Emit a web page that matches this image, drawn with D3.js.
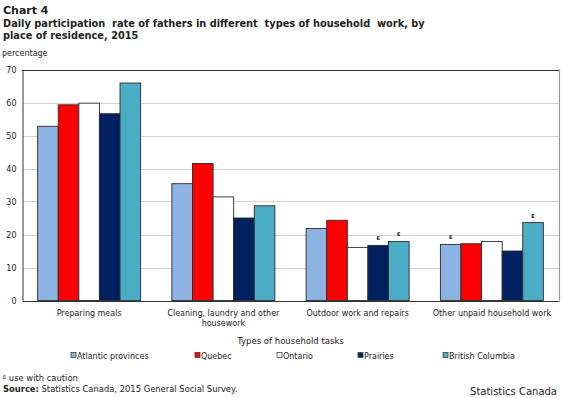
<!DOCTYPE html>
<html>
<head>
<meta charset="utf-8">
<script src="https://cdn.jsdelivr.net/npm/d3@7"></script>
<style>
  html, body { margin: 0; padding: 0; background: #fff; }
  svg { display: block; }
  text { font-family: "DejaVu Sans", Verdana, sans-serif; fill: #222; }
  .pre { white-space: pre; }
</style>
</head>
<body>
<svg id="chart" width="570" height="398"></svg>
<script>
// ---- data ----
const categories = [
  "Preparing meals",
  "Cleaning, laundry and other housework",
  "Outdoor work and repairs",
  "Other unpaid household work"
];
const seriesNames = ["Atlantic provinces", "Quebec", "Ontario", "Prairies", "British Columbia"];
const atlanticProvinces = [52.8, 35.4, 21.8, 17.0];
const quebec            = [59.3, 41.5, 24.3, 17.2];
const ontario           = [59.8, 31.4, 16.1, 17.9];
const prairies          = [56.6, 25.0, 16.7, 15.0];
const britishColumbia   = [65.9, 28.7, 17.9, 23.6];
// "E" = use with caution flags, per series, per category
const cautionAtlantic = [false, false, false, true];
const cautionQuebec   = [false, false, false, false];
const cautionOntario  = [false, false, false, false];
const cautionPrairies = [false, false, true, false];
const cautionBC       = [false, false, true, true];
const yTicks = [0, 10, 20, 30, 40, 50, 60, 70];

const seriesValues = [atlanticProvinces, quebec, ontario, prairies, britishColumbia];
const seriesCaution = [cautionAtlantic, cautionQuebec, cautionOntario, cautionPrairies, cautionBC];
const colors = ["#8DB3E2", "#FF0000", "#FFFFFF", "#002060", "#4BACC6"];

const svg = d3.select("#chart");
const plot = { left: 22, right: 559, top: 69.5, bottom: 300.5 };

const x0 = d3.scaleBand().domain(categories).range([plot.left, plot.right])
  .paddingInner(0.233).paddingOuter(0.1165);
const x1 = d3.scaleBand().domain(seriesNames).range([0, x0.bandwidth()]).padding(0);
const y = d3.scaleLinear().domain([0, 70]).range([plot.bottom, plot.top]);

// titles
svg.append("text").attr("x", 3).attr("y", 14).attr("font-size", 11).attr("font-weight", "bold").text("Chart 4");
svg.append("text").attr("class", "pre").attr("x", 3).attr("y", 26.5).attr("font-size", 9.8).attr("font-weight", "bold")
  .text("Daily participation  rate of fathers in different  types of household  work, by");
svg.append("text").attr("x", 3).attr("y", 38.5).attr("font-size", 9.8).attr("font-weight", "bold")
  .text("place of residence, 2015");
svg.append("text").attr("x", 2).attr("y", 56).attr("font-size", 8).text("percentage");

// gridlines
svg.append("g").selectAll("line").data(yTicks.filter(t => t > 0 && t < 70)).join("line")
  .attr("x1", plot.left).attr("x2", plot.right)
  .attr("y1", d => Math.round(y(d)) + 0.5).attr("y2", d => Math.round(y(d)) + 0.5)
  .attr("stroke", "#d4d4d4").attr("stroke-width", 1);

// frame: top dark, right grey
svg.append("line").attr("x1", plot.left).attr("x2", plot.right)
  .attr("y1", Math.round(y(70)) + 0.5).attr("y2", Math.round(y(70)) + 0.5)
  .attr("stroke", "#333").attr("stroke-width", 1);
svg.append("line").attr("x1", plot.right + 0.5).attr("x2", plot.right + 0.5)
  .attr("y1", y(70)).attr("y2", y(0))
  .attr("stroke", "#999").attr("stroke-width", 1.2);

// y axis
const yAxis = d3.axisLeft(y).tickValues(yTicks).tickSize(0).tickPadding(6);
const gy = svg.append("g").attr("transform", `translate(${plot.left + 0.5},0)`).call(yAxis);
gy.select(".domain").attr("stroke", "#333");
gy.selectAll("text").attr("font-size", 8).attr("font-family", "DejaVu Sans, Verdana, sans-serif").attr("fill", "#333");

// bars
const groups = svg.append("g").selectAll("g").data(categories).join("g")
  .attr("transform", d => `translate(${x0(d)},0)`);
const cells = (c, ci) => seriesNames.map((s, si) => ({ s, si, v: seriesValues[si][ci], e: seriesCaution[si][ci] }));
groups.selectAll("rect").data(cells)
  .join("rect")
  .attr("x", d => x1(d.s))
  .attr("y", d => y(d.v))
  .attr("width", x1.bandwidth())
  .attr("height", d => y(0) - y(d.v))
  .attr("fill", d => colors[d.si])
  .attr("stroke", "#2a2a2a").attr("stroke-width", 0.9);
groups.selectAll("text.e").data((c, ci) => cells(c, ci).filter(d => d.e))
  .join("text").attr("class", "e")
  .attr("x", d => x1(d.s) + x1.bandwidth() / 2)
  .attr("y", d => y(d.v) - 5)
  .attr("text-anchor", "middle").attr("font-size", 5).attr("font-weight", "bold")
  .text("E");

// x axis
const xAxis = d3.axisBottom(x0).tickSize(0).tickPadding(9);
const gx = svg.append("g").attr("transform", `translate(0,${plot.bottom + 0.5})`).call(xAxis);
gx.select(".domain").attr("stroke", "#333");
gx.selectAll("text").attr("font-size", 8).attr("font-family", "DejaVu Sans, Verdana, sans-serif").attr("fill", "#222")
  .each(function(d) {
    const t = d3.select(this);
    const words = d.split(" ");
    const lines = [];
    let cur = "";
    t.text(null);
    const probe = t.append("tspan");
    words.forEach(w => {
      const test = cur ? cur + " " + w : w;
      probe.text(test);
      if (probe.node().getComputedTextLength() > 125 && cur) { lines.push(cur); cur = w; }
      else cur = test;
    });
    lines.push(cur);
    probe.remove();
    lines.forEach((ln, i) => t.append("tspan").attr("x", 0).attr("dy", i === 0 ? "0.71em" : "1.35em").text(ln));
  });

svg.append("text").attr("x", (plot.left + plot.right) / 2).attr("y", 344).attr("text-anchor", "middle")
  .attr("font-size", 8.5).text("Types of household tasks");

// legend
const legendX = [71, 195, 277, 358, 443];
const lg = svg.append("g").selectAll("g").data(seriesNames).join("g")
  .attr("transform", (d, i) => `translate(${legendX[i]},356)`);
lg.append("rect").attr("x", 0).attr("y", -3.5).attr("width", 5).attr("height", 5)
  .attr("fill", (d, i) => colors[i]).attr("stroke", "#444").attr("stroke-width", 0.8);
lg.append("text").attr("x", 6).attr("y", 3).attr("font-size", 8).text(d => d);

// notes
const note = svg.append("text").attr("x", 3).attr("y", 381).attr("font-size", 8.4);
note.append("tspan").attr("font-size", 5).attr("dy", -2).text("E");
note.append("tspan").attr("dy", 2).text(" use with caution");
const src = svg.append("text").attr("x", 3).attr("y", 392).attr("font-size", 8.4);
src.append("tspan").attr("font-weight", "bold").text("Source:");
src.append("tspan").text(" Statistics Canada, 2015 General Social Survey.");

svg.append("text").attr("x", 557).attr("y", 395).attr("text-anchor", "end")
  .attr("font-family", "Liberation Sans, Arial, sans-serif").attr("font-size", 10).text("Statistics Canada");
</script>
</body>
</html>
